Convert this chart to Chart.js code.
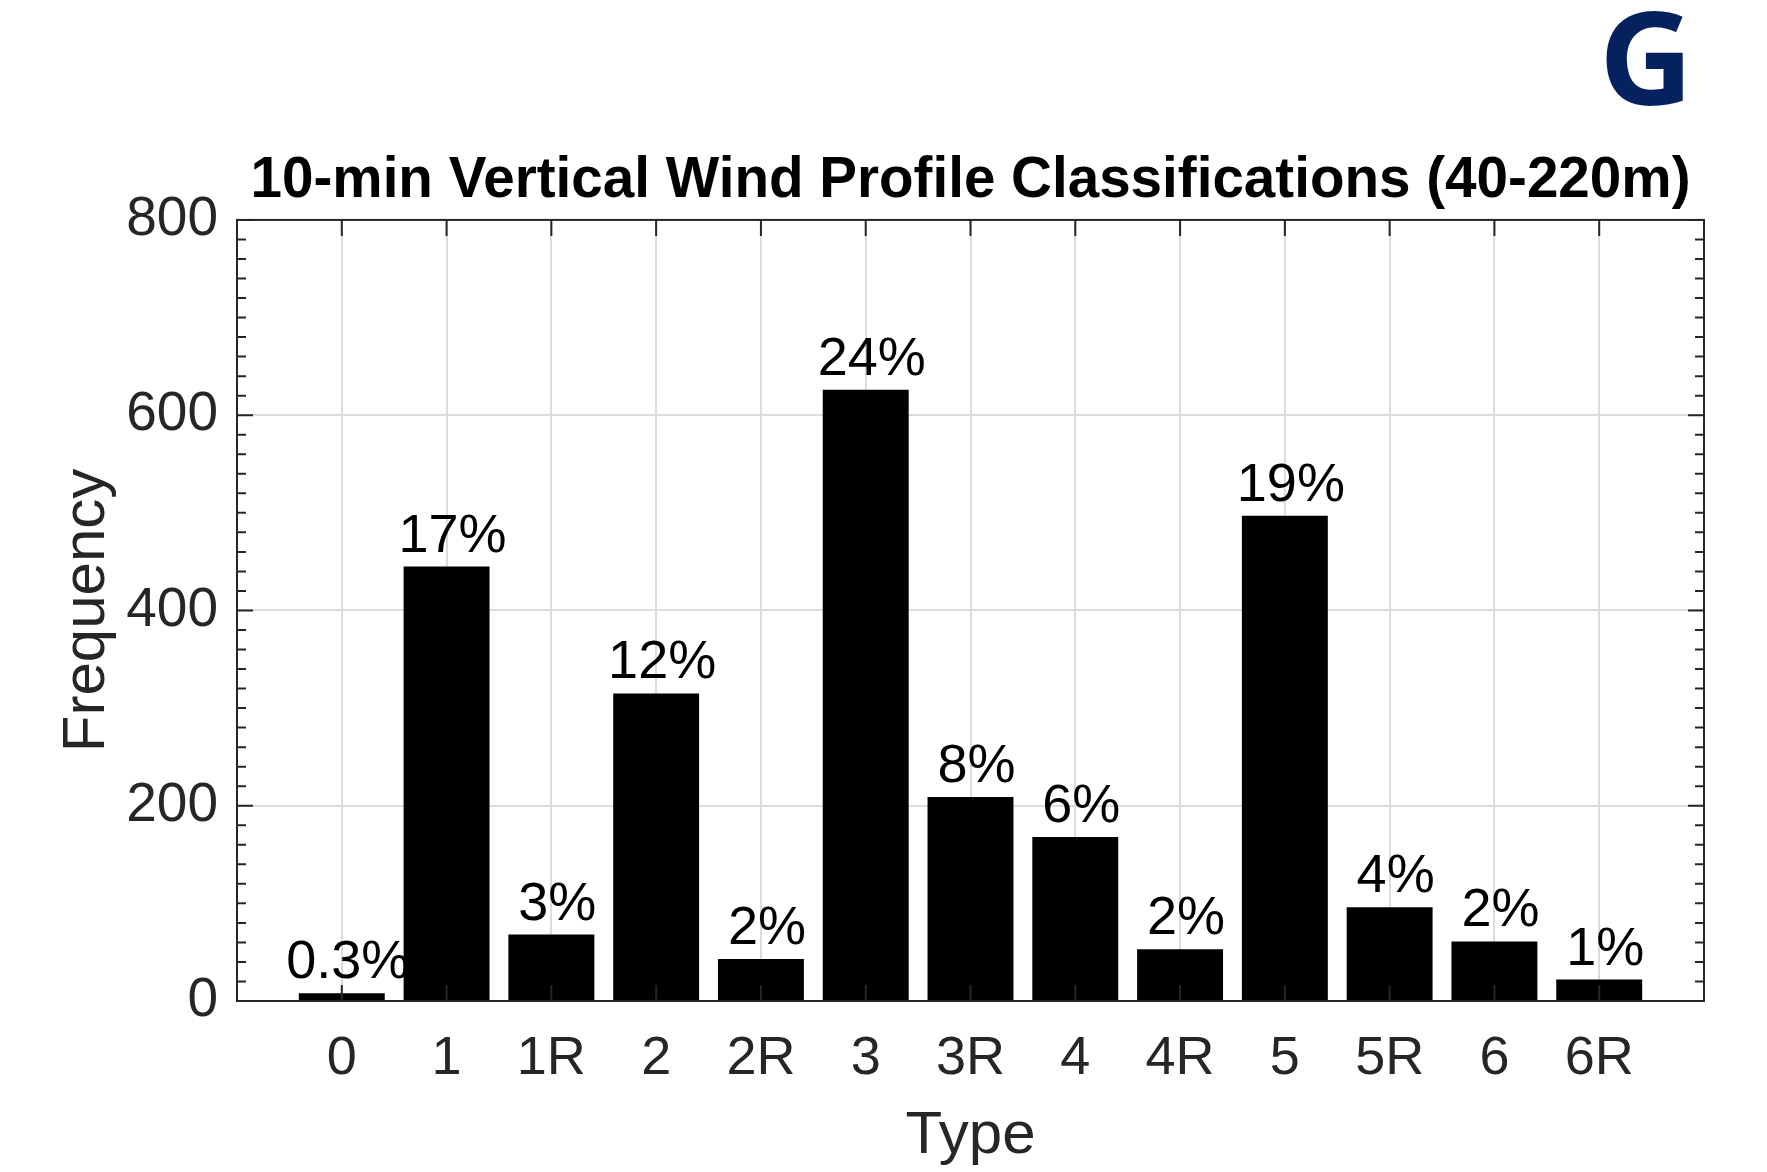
<!DOCTYPE html>
<html>
<head>
<meta charset="utf-8">
<script src="https://cdn.jsdelivr.net/npm/chart.js@4/dist/chart.umd.min.js"></script>
<style>
  html, body { margin: 0; padding: 0; background: #fff; }
  canvas { display: block; }
</style>
</head>
<body>
<canvas id="chart" width="1767" height="1172"></canvas>
<script>
// values
const categories = ['0', '1', '1R', '2', '2R', '3', '3R', '4', '4R', '5', '5R', '6', '6R'];
const frequency = [8, 445, 68, 315, 43, 626, 209, 168, 53, 497, 96, 61, 22];
const percentLabels = ['0.3%', '17%', '3%', '12%', '2%', '24%', '8%', '6%', '2%', '19%', '4%', '2%', '1%'];
const yTicks = [0, 200, 400, 600, 800];

const FONT = '"Liberation Sans", Arial, Helvetica, sans-serif';
const AXIS_COLOR = '#262626';
const GRID_COLOR = '#dcdcdc';

// percent text above each bar (matlab puts them a little right of centre)
const barLabels = {
    id: 'barLabels',
    afterDatasetsDraw(chart) {
        const ctx = chart.ctx;
        const meta = chart.getDatasetMeta(0);
        ctx.save();
        ctx.font = '54px ' + FONT;
        ctx.fillStyle = '#000';
        ctx.textAlign = 'center';
        ctx.textBaseline = 'alphabetic';
        meta.data.forEach((bar, i) => {
            ctx.fillText(percentLabels[i], bar.x + 6, bar.y - 15);
        });
        ctx.restore();
    }
};

// box + inward ticks (matlab style) and the corner logo
const boxAxes = {
    id: 'boxAxes',
    afterDraw(chart) {
        const ctx = chart.ctx;
        const { left, right, top, bottom } = chart.chartArea;
        const x = chart.scales.x;
        const y = chart.scales.y;
        ctx.save();
        ctx.strokeStyle = AXIS_COLOR;
        ctx.lineWidth = 2;
        ctx.beginPath();

        categories.forEach((c, i) => {
            const px = x.getPixelForValue(i);
            ctx.moveTo(px, bottom); ctx.lineTo(px, bottom - 16);
            ctx.moveTo(px, top); ctx.lineTo(px, top + 16);
        });

        for (let v = 0; v <= 800; v += 20) {
            const py = y.getPixelForValue(v);
            const len = yTicks.includes(v) ? 16 : 9;
            ctx.moveTo(left, py); ctx.lineTo(left + len, py);
            ctx.moveTo(right, py); ctx.lineTo(right - len, py);
        }
        ctx.stroke();

        ctx.strokeRect(left, top, right - left, bottom - top);

        ctx.font = 'bold 130px "Open Sans", sans-serif';
        ctx.fillStyle = '#05215e';
        ctx.textAlign = 'left';
        ctx.textBaseline = 'alphabetic';
        ctx.fillText('G', 1599, 105);
        ctx.restore();
    }
};

new Chart(document.getElementById('chart'), {
    type: 'bar',
    data: {
        datasets: [{
            data: categories.map((c, i) => ({ x: i, y: frequency[i] })),
            backgroundColor: '#000',
            borderWidth: 0,
            categoryPercentage: 1,
            barPercentage: 0.82
        }]
    },
    options: {
        responsive: false,
        animation: false,
        devicePixelRatio: 1,
        layout: { padding: { left: 0, right: 63, top: 0, bottom: 0 } },
        plugins: {
            legend: { display: false },
            tooltip: { enabled: false },
            title: {
                display: true,
                text: '10-min Vertical Wind Profile Classifications (40-220m)',
                fullSize: false,
                color: '#000',
                font: { family: FONT, size: 56.6, weight: 'bold', lineHeight: 1.2 },
                padding: { top: 147, bottom: 5 }
            }
        },
        scales: {
            x: {
                type: 'linear',
                min: -1,
                max: 13,
                offset: false,
                afterFit: s => { s.height = 171; },
                afterBuildTicks: s => { s.ticks = categories.map((c, i) => ({ value: i })); },
                ticks: {
                    autoSkip: false,
                    maxRotation: 0,
                    padding: 26,
                    color: AXIS_COLOR,
                    font: { family: FONT, size: 54 },
                    callback: v => categories[v] ?? ''
                },
                grid: { color: GRID_COLOR, lineWidth: 2, drawTicks: false, offset: false },
                border: { display: false },
                title: {
                    display: true,
                    text: 'Type',
                    color: AXIS_COLOR,
                    font: { family: FONT, size: 60 },
                    padding: { top: 0, bottom: 0 }
                }
            },
            y: {
                min: 0,
                max: 800,
                afterFit: s => { s.width = 237; },
                afterBuildTicks: s => { s.ticks = yTicks.map(v => ({ value: v })); },
                ticks: {
                    padding: 19,
                    color: AXIS_COLOR,
                    font: { family: FONT, size: 55 }
                },
                grid: { color: GRID_COLOR, lineWidth: 2, drawTicks: false },
                border: { display: false },
                title: {
                    display: true,
                    text: 'Frequency',
                    color: AXIS_COLOR,
                    font: { family: FONT, size: 60 },
                    padding: { top: 51, bottom: 0 }
                }
            }
        }
    },
    plugins: [barLabels, boxAxes]
});
</script>
</body>
</html>
